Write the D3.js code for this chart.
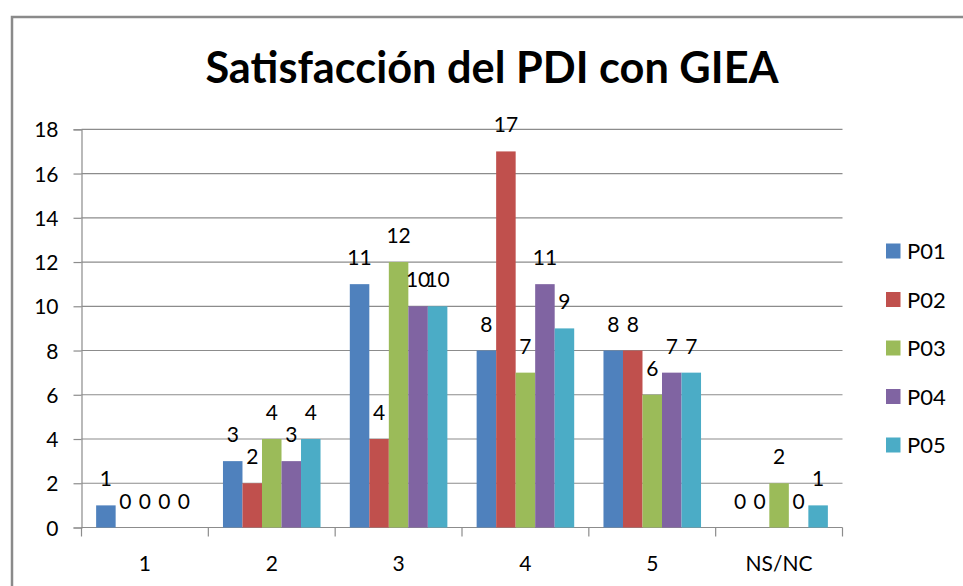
<!DOCTYPE html>
<html>
<head>
<meta charset="utf-8">
<script src="https://cdn.jsdelivr.net/npm/d3@7/dist/d3.min.js"></script>
<style>
  html, body { margin: 0; padding: 0; background: #fff; }
  svg { display: block; }
  text { font-family: "Lato", "Open Sans", sans-serif; fill: #000; }
</style>
</head>
<body>
<svg id="chart" width="963" height="586"></svg>
<script>
// Survey answers (1–5 scale plus "don't know / no answer")
const categories = ["1", "2", "3", "4", "5", "NS/NC"];
const seriesNames = ["P01", "P02", "P03", "P04", "P05"];
const P01 = [1, 3, 11, 8, 8, 0];
const P02 = [0, 2, 4, 17, 8, 0];
const P03 = [0, 4, 12, 7, 6, 2];
const P04 = [0, 3, 10, 11, 7, 0];
const P05 = [0, 4, 10, 9, 7, 1];
const yTicks = [0, 2, 4, 6, 8, 10, 12, 14, 16, 18];
const titleText = "Satisfacción del PDI con GIEA";

const seriesValues = [P01, P02, P03, P04, P05];
const colors = ["#4F81BD", "#C0504D", "#9BBB59", "#8064A2", "#4BACC6"];
const labelSize = "21px";

const svg = d3.select("#chart");

// outer chart frame (only top and left edges fall inside the view)
svg.append("rect")
  .attr("x", 12).attr("y", 17)
  .attr("width", 1000).attr("height", 1000)
  .attr("fill", "none")
  .attr("stroke", "#8a8a8a")
  .attr("stroke-width", 2.5);

const plot = { left: 81.5, right: 842.5, top: 129.3, bottom: 527.5 };

const x0 = d3.scaleBand()
  .domain(categories)
  .range([plot.left, plot.right])
  .paddingInner(0).paddingOuter(0);

// five bars per group with a 150% gap between groups
const x1 = d3.scaleBand()
  .domain(seriesNames)
  .range([0, x0.bandwidth()])
  .paddingInner(0)
  .paddingOuter(0.75);

const y = d3.scaleLinear().domain([0, 18]).range([plot.bottom, plot.top]);

// horizontal gridlines
svg.append("g")
  .selectAll("line")
  .data(yTicks.filter(t => t > 0))
  .join("line")
  .attr("x1", plot.left).attr("x2", plot.right)
  .attr("y1", d => y(d)).attr("y2", d => y(d))
  .attr("stroke", "#8c8c8c").attr("stroke-width", 1.2);

// y axis
const yAxis = d3.axisLeft(y).tickValues(yTicks).tickSize(8).tickPadding(15);
const gy = svg.append("g").attr("transform", `translate(${plot.left},0)`).call(yAxis);
gy.select(".domain").attr("stroke", "#8c8c8c").attr("stroke-width", 1.2);
gy.selectAll(".tick line").attr("stroke", "#8c8c8c").attr("stroke-width", 1.2);
gy.selectAll(".tick text")
  .style("font-size", labelSize)
  .style("font-family", "Lato, 'Open Sans', sans-serif")
  .attr("fill", "#000")
  .attr("dy", "0.36em");

// x axis with ticks at group boundaries
const xAxisLine = svg.append("g");
xAxisLine.append("line")
  .attr("x1", plot.left).attr("x2", plot.right)
  .attr("y1", plot.bottom).attr("y2", plot.bottom)
  .attr("stroke", "#8c8c8c").attr("stroke-width", 1.2);
const boundaries = categories.map(c => x0(c)).concat([x0(categories[categories.length - 1]) + x0.bandwidth()]);
xAxisLine.selectAll("line.tk")
  .data(boundaries)
  .join("line")
  .attr("class", "tk")
  .attr("x1", d => d).attr("x2", d => d)
  .attr("y1", plot.bottom).attr("y2", plot.bottom + 9)
  .attr("stroke", "#8c8c8c").attr("stroke-width", 1.2);
xAxisLine.selectAll("text")
  .data(categories)
  .join("text")
  .attr("x", d => x0(d) + x0.bandwidth() / 2)
  .attr("y", 571)
  .attr("text-anchor", "middle")
  .style("font-size", labelSize)
  .text(d => d);

// bars
const groups = svg.append("g")
  .selectAll("g")
  .data(categories)
  .join("g")
  .attr("transform", d => `translate(${x0(d)},0)`);

groups.selectAll("rect")
  .data((c, i) => seriesNames.map((s, j) => ({ s, j, v: seriesValues[j][i] })))
  .join("rect")
  .attr("x", d => x1(d.s))
  .attr("width", x1.bandwidth())
  .attr("y", d => y(d.v))
  .attr("height", d => y(0) - y(d.v))
  .attr("fill", d => colors[d.j]);

// value labels above each bar
groups.selectAll("text")
  .data((c, i) => seriesNames.map((s, j) => ({ s, j, v: seriesValues[j][i] })))
  .join("text")
  .attr("x", d => x1(d.s) + x1.bandwidth() / 2)
  .attr("y", d => y(d.v) - 19)
  .attr("text-anchor", "middle")
  .style("font-size", labelSize)
  .text(d => d.v);

// title, sized to span its slot above the plot
const title = svg.append("text")
  .attr("x", 492)
  .attr("y", 83)
  .attr("text-anchor", "middle")
  .style("font-family", "Lato, 'Open Sans', sans-serif")
  .style("font-weight", "bold")
  .style("font-size", "40px")
  .text(titleText);
const tw = title.node().getComputedTextLength();
title.style("font-size", (40 * 573 / tw).toFixed(1) + "px");

// legend
const legend = svg.append("g")
  .selectAll("g")
  .data(seriesNames)
  .join("g")
  .attr("transform", (d, i) => `translate(886, ${251 + i * 48.5})`);
legend.append("rect")
  .attr("x", 0).attr("y", -7.5)
  .attr("width", 14.5).attr("height", 15)
  .attr("fill", (d, i) => colors[i]);
legend.append("text")
  .attr("x", 21)
  .attr("y", 8)
  .style("font-size", "22px")
  .text(d => d);
</script>
</body>
</html>
